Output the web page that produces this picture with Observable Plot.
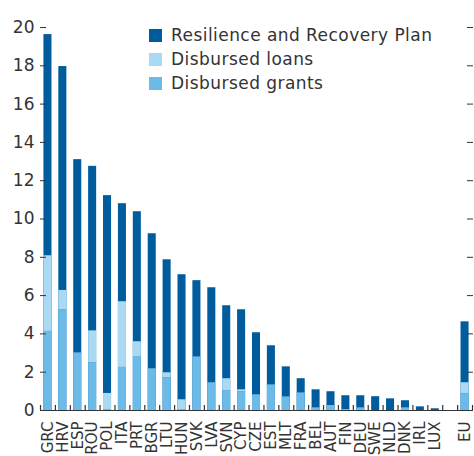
<!DOCTYPE html>
<html>
<head>
<meta charset="utf-8">
<script src="https://cdn.jsdelivr.net/npm/d3@7"></script>
<script src="https://cdn.jsdelivr.net/npm/@observablehq/plot@0.6"></script>
<style>
  html, body { margin: 0; padding: 0; background: #fff; }
  body { width: 474px; height: 456px; overflow: hidden; font-family: "DejaVu Sans", sans-serif; color: #333; }
  #wrap { position: relative; width: 474px; height: 456px; }
  #legend { position: absolute; left: 149px; top: 23px; font-size: 17px; line-height: 24px; color: #333; letter-spacing: 0.45px; }
  #legend .row { display: flex; align-items: center; height: 24px; white-space: nowrap; }
  #legend .sw { width: 13px; height: 13px; margin-right: 9px; flex: none; }
  svg text { fill: #333; }
</style>
</head>
<body>
<div id="wrap"><div id="legend"></div></div>
<script>
const categories = ["GRC","HRV","ESP","ROU","POL","ITA","PRT","BGR","LTU","HUN","SVK","LVA","SVN","CYP","CZE","EST","MLT","FRA","BEL","AUT","FIN","DEU","SWE","NLD","DNK","IRL","LUX","EU"];
const plan   = [19.63,17.96,13.10,12.75,11.22,10.80,10.38,9.23,7.87,7.09,6.78,6.41,5.47,5.26,4.06,3.38,2.28,1.66,1.08,0.98,0.77,0.77,0.72,0.61,0.51,0.19,0.09,4.63];
const loans  = [3.95,1.01,0,1.67,0.84,3.43,0.77,0,0.26,0.51,0,0,0.63,0.10,0,0,0,0,0,0,0,0,0,0,0,0,0,0.58];
const grants = [4.13,5.26,3.01,2.49,0.05,2.25,2.82,2.18,1.71,0.05,2.80,1.45,1.03,0.98,0.82,1.34,0.71,0.92,0.14,0.26,0.05,0.14,0,0,0.14,0,0,0.87];
const seriesNames = ["Resilience and Recovery Plan","Disbursed loans","Disbursed grants"];
const seriesColors = ["#005c9d","#a9d9f3","#6cbae8"];
const yTicks = [0,2,4,6,8,10,12,14,16,18,20];

const gapKey = " ";
const xDomain = [...categories.slice(0, -1), gapKey, "EU"];

const rows = categories.map((c, i) => ({c, plan: plan[i], loans: loans[i], grants: grants[i]}));
const disbursed = categories.flatMap((c, i) => [
  {c, series: seriesNames[2], v: grants[i]},
  {c, series: seriesNames[1], v: loans[i]}
]);

const W = 474, H = 456;
const mL = 40, mR = 2, mT = 27, mB = 46;
const step = (W - mL - mR) / xDomain.length;

const chart = Plot.plot({
  width: W, height: H,
  marginLeft: mL, marginRight: mR, marginTop: mT, marginBottom: mB,
  x: {domain: xDomain, paddingInner: 0.46, paddingOuter: 0.23, round: false, label: null},
  y: {domain: [0, 20], label: null},
  color: {domain: seriesNames, range: seriesColors},
  marks: [
    Plot.barY(rows, {x: "c", y: "plan", fill: seriesColors[0]}),
    Plot.barY(disbursed, Plot.stackY({x: "c", y: "v", fill: "series", order: [seriesNames[2], seriesNames[1]]})),
    Plot.ruleY([0], {stroke: "#333", strokeWidth: 1.2}),
    Plot.ruleX(xDomain, {x: d => d, dx: -step / 2, y1: 0, y2: 0, insetTop: -5, stroke: "#333", strokeWidth: 1.2}),
    Plot.ruleX(["EU"], {x: d => d, dx: step / 2, y1: 0, y2: 0, insetTop: -5, stroke: "#333", strokeWidth: 1.2}),
    Plot.axisY({anchor: "left", ticks: yTicks, tickSize: 0, tickPadding: 6, fontSize: 17, fontFamily: "DejaVu Sans", label: null}),
    Plot.axisY({anchor: "left", ticks: yTicks, tickSize: 6, dx: 6, text: null, label: null, stroke: "#333"}),
    Plot.axisY({anchor: "right", ticks: yTicks, tickSize: 6, dx: -6, text: null, label: null, stroke: "#333"}),
    Plot.axisX({tickSize: 0, tickPadding: 11, tickRotate: -90, fontSize: 15, fontFamily: "DejaVu Sans", label: null})
  ]
});
chart.style.position = "absolute";
chart.style.left = "0px";
chart.style.top = "0px";
const wrap = document.getElementById("wrap");
wrap.insertBefore(chart, wrap.firstChild);

const legend = document.getElementById("legend");
seriesNames.forEach((name, i) => {
  const row = document.createElement("div");
  row.className = "row";
  const sw = document.createElement("span");
  sw.className = "sw";
  sw.style.background = seriesColors[i];
  const t = document.createElement("span");
  t.textContent = name;
  row.appendChild(sw);
  row.appendChild(t);
  legend.appendChild(row);
});
</script>
</body>
</html>
